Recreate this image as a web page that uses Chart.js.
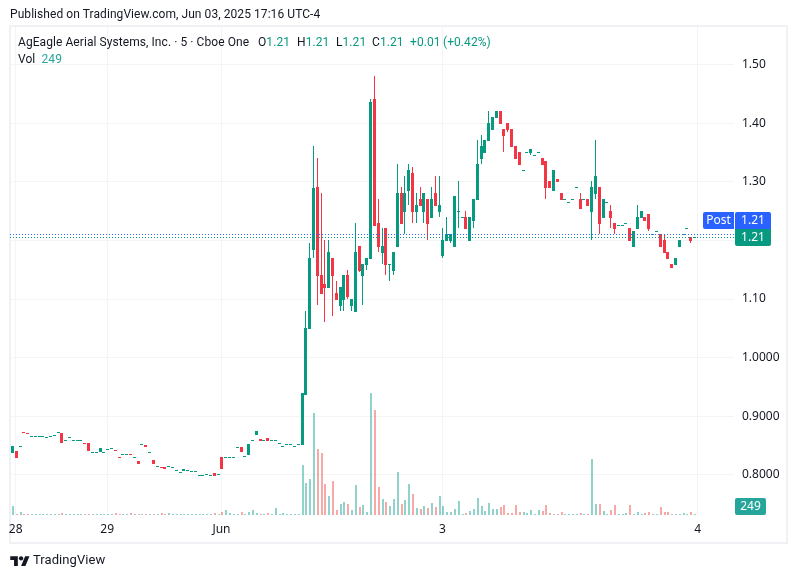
<!DOCTYPE html>
<html><head><meta charset="utf-8">
<script src="https://cdn.jsdelivr.net/npm/chart.js@4"></script>
<style>
html,body{margin:0;padding:0;background:#fff;width:798px;height:578px;overflow:hidden}
body{font-family:Roboto,sans-serif;color:#131722;position:relative}
canvas{position:absolute;left:0;top:0}
.t{position:absolute;white-space:pre;font-size:12px;line-height:16px;letter-spacing:.07px}
.v{color:#089981}
</style></head><body>
<canvas id="c" width="798" height="578"></canvas>
<div class="t" style="left:10px;top:6px">Published on TradingView.com, Jun 03, 2025 17:16 UTC-4</div>
<div class="t" style="left:18px;top:34px">AgEagle Aerial Systems, Inc. · 5 · Cboe One</div>
<div class="t" style="left:258px;top:34px">O<span class="v">1.21</span></div>
<div class="t" style="left:297px;top:34px">H<span class="v">1.21</span></div>
<div class="t" style="left:336px;top:34px">L<span class="v">1.21</span></div>
<div class="t" style="left:372px;top:34px">C<span class="v">1.21</span></div>
<div class="t v" style="left:410px;top:34px">+0.01</div>
<div class="t v" style="left:443px;top:34px">(+0.42%)</div>
<div class="t" style="left:18px;top:51px">Vol</div>
<div class="t" style="left:41.5px;top:51px;color:#26a69a">249</div>
<svg style="position:absolute;left:10px;top:554px" width="20" height="13" viewBox="0 0 36 24"><path fill="#131722" d="M14 22H7V11H0V4h14v18zM28 22h-8l7.5-18h8L28 22z"/><circle fill="#131722" cx="20" cy="8" r="4"/></svg>
<div class="t" style="left:33px;top:552px;font-size:13px">TradingView</div>
<script>
const opens=[.838,.841,.849,.873,.871,.866,.866,.866,.866,.864,
.866,.869,.873,.8717,.859,.864,.859,.859,.859,.854,
.8546,.840,.840,.8392,.840,.844,.8455,.842,.830,.835,
.835,.835,.830,.824,.852,.851,.840,.8256,.815,.813,
.813,.815,.813,.808,.8046,.8068,.8085,.806,.806,.7995,
.7995,.801,.7995,.8034,.801,.8307,.830,.830,.830,.847,
.8478,.832,.834,.859,.868,.861,.859,.863,.859,.859,
.854,.849,.852,.852,.849,.852,.851,.936,1.049,1.183,
1.291,1.141,1.125,1.119,1.170,1.110,1.088,1.098,1.141,1.088,
1.078,1.190,1.139,1.158,1.168,1.441,1.230,1.178,1.221,1.160,
1.148,1.189,1.281,1.248,1.284,1.315,1.248,1.270,1.248,1.270,
1.238,1.281,1.248,1.173,1.199,1.199,1.189,1.250,1.240,1.240,
1.199,1.233,1.269,1.339,1.349,1.369,1.388,1.409,1.421,1.390,
1.400,1.390,1.361,1.351,1.320,1.351,1.349,1.346,1.351,1.340,
1.335,1.301,1.284,1.305,1.281,1.270,1.265,1.270,1.291,1.270,
1.270,1.270,1.248,1.279,1.291,1.238,1.265,1.250,1.230,1.226,
1.226,1.230,1.221,1.189,1.219,1.238,1.240,1.245,1.211,1.216,
1.211,1.200,1.180,1.160,1.158,1.189,1.211,1.221,1.206,1.206];
const closes=[.8495,.8295,.849,.872,.870,.866,.866,.866,.866,.864,
.866,.869,.873,.8546,.859,.864,.859,.859,.859,.853,
.841,.840,.840,.846,.840,.844,.8455,.841,.829,.835,
.835,.834,.830,.8188,.852,.848,.840,.8188,.815,.812,
.810,.815,.813,.808,.8046,.810,.8085,.806,.806,.7995,
.7995,.801,.7995,.798,.801,.810,.830,.830,.830,.847,
.839,.832,.853,.859,.875,.858,.859,.858,.859,.859,
.854,.849,.852,.852,.849,.852,.939,1.050,1.170,1.289,
1.140,1.109,1.119,1.180,1.140,1.098,1.120,1.141,1.103,1.100,
1.180,1.148,1.160,1.170,1.436,1.224,1.189,1.190,1.158,1.160,
1.180,1.281,1.228,1.281,1.320,1.248,1.260,1.259,1.281,1.228,
1.270,1.259,1.260,1.200,1.211,1.211,1.276,1.250,1.240,1.219,
1.240,1.270,1.330,1.361,1.371,1.400,1.410,1.421,1.398,1.378,
1.388,1.359,1.339,1.328,1.320,1.351,1.356,1.346,1.351,1.328,
1.289,1.289,1.320,1.299,1.269,1.270,1.265,1.270,1.291,1.253,
1.270,1.259,1.291,1.310,1.228,1.270,1.265,1.238,1.219,1.226,
1.226,1.230,1.199,1.216,1.240,1.250,1.233,1.219,1.211,1.216,
1.189,1.178,1.168,1.153,1.170,1.200,1.211,1.221,1.199,1.206];
const highs=[.8495,.841,.849,.873,.871,.866,.866,.866,.866,.864,
.866,.869,.873,.8717,.859,.864,.859,.859,.859,.854,
.8546,.840,.840,.846,.840,.844,.8455,.842,.830,.835,
.835,.835,.830,.824,.852,.851,.840,.8256,.815,.813,
.813,.815,.813,.808,.8046,.810,.8085,.806,.806,.7995,
.7995,.801,.7995,.8034,.801,.8307,.830,.830,.830,.847,
.8478,.832,.853,.859,.875,.861,.859,.863,.859,.859,
.854,.849,.852,.852,.849,.852,.939,1.079,1.195,1.361,
1.340,1.281,1.200,1.200,1.170,1.131,1.120,1.141,1.149,1.100,
1.230,1.190,1.160,1.170,1.441,1.480,1.270,1.221,1.221,1.160,
1.180,1.330,1.291,1.310,1.330,1.325,1.281,1.291,1.281,1.270,
1.291,1.310,1.310,1.221,1.240,1.211,1.276,1.301,1.240,1.250,
1.240,1.270,1.371,1.380,1.371,1.421,1.410,1.421,1.421,1.390,
1.400,1.390,1.361,1.351,1.320,1.351,1.356,1.346,1.351,1.340,
1.335,1.301,1.320,1.305,1.281,1.270,1.265,1.270,1.291,1.281,
1.270,1.270,1.301,1.371,1.291,1.270,1.265,1.260,1.230,1.226,
1.226,1.230,1.221,1.216,1.260,1.250,1.240,1.245,1.211,1.216,
1.211,1.211,1.180,1.160,1.170,1.200,1.211,1.221,1.206,1.206];
const lows=[.838,.8295,.849,.872,.870,.866,.866,.866,.866,.864,
.866,.869,.873,.8546,.859,.864,.859,.859,.859,.853,
.841,.840,.840,.8392,.840,.844,.8455,.841,.829,.835,
.835,.834,.830,.8188,.852,.848,.840,.8188,.815,.812,
.810,.815,.813,.808,.8046,.8068,.8085,.806,.806,.7995,
.7995,.801,.7995,.798,.801,.810,.830,.830,.830,.847,
.839,.832,.834,.859,.868,.858,.859,.858,.859,.859,
.854,.849,.852,.852,.849,.852,.851,.936,1.049,1.170,
1.090,1.109,1.061,1.119,1.071,1.098,1.079,1.079,1.100,1.079,
1.078,1.146,1.090,1.149,1.168,1.224,1.180,1.160,1.141,1.131,
1.141,1.189,1.228,1.211,1.260,1.230,1.230,1.259,1.230,1.200,
1.238,1.259,1.240,1.170,1.199,1.195,1.189,1.221,1.240,1.219,
1.199,1.221,1.269,1.330,1.349,1.369,1.388,1.409,1.398,1.351,
1.385,1.359,1.339,1.328,1.320,1.351,1.346,1.346,1.351,1.328,
1.270,1.289,1.284,1.299,1.269,1.270,1.265,1.270,1.291,1.253,
1.270,1.259,1.200,1.270,1.211,1.238,1.265,1.221,1.211,1.226,
1.226,1.230,1.199,1.189,1.219,1.238,1.233,1.216,1.211,1.216,
1.189,1.178,1.168,1.153,1.158,1.189,1.211,1.221,1.195,1.206];
const volumes=[2250,250,750,250,250,250,250,250,250,250,
250,250,250,500,250,250,250,250,250,250,
250,250,250,250,250,250,250,500,250,250,
250,500,250,250,250,250,250,250,250,500,
250,500,250,250,250,250,250,250,250,250,
250,250,250,500,250,750,1250,500,250,250,
750,250,750,1250,500,250,250,500,250,1750,
250,500,250,250,250,250,12500,8000,9000,25500,
16500,15500,7750,4750,8500,1250,2750,3250,2750,1250,
7500,2000,2500,750,30500,26250,7000,4000,3250,2250,
4000,10750,2750,3750,7750,5250,1750,1500,2250,1750,
3000,2000,4750,2250,750,750,1500,3500,250,500,
1000,1500,4250,2250,1000,3000,1500,1500,2000,2500,
500,500,2500,750,750,500,1250,250,1250,1000,
2500,500,250,250,750,250,250,250,250,500,
250,250,14000,2750,2750,1000,250,1250,2500,250,
250,500,2500,250,750,250,500,750,250,250,
2000,750,750,250,250,250,500,250,750,249];
const slotCount=190;
const dayTickIndex=[1,25,55,113,180];
const dayTickLabels=['28','29','Jun','3','4'];
const priceTicks=[0.8,0.9,1.0,1.1,1.2,1.3,1.4,1.5];
const priceTickLabels=['0.8000','0.9000','1.0000','1.10','1.20','1.30','1.40','1.50'];
const postPrice=1.211, lastClose=1.206, lastVolume=249;

const UP='#089981',DOWN='#f23645',VUP='rgba(38,166,154,.5)',VDOWN='rgba(239,83,80,.5)';
const GRID='#f3f4f6', FONT='"Noto Sans",sans-serif';
const labels=Array.from({length:slotCount},(_,i)=>{const k=dayTickIndex.indexOf(i);return k<0?'':dayTickLabels[k];});
const up=closes.map((c,i)=>c>=opens[i]);

const snapPlugin={id:'snap',afterDatasetsUpdate(chart){
  chart.data.datasets.forEach((d,di)=>{
    chart.getDatasetMeta(di).data.forEach(el=>{
      el.x=Math.round(el.x)+(d.label==='Volume'?1:.5);
      const top=Math.round(el.y), base=Math.round(el.base);
      el.y=top; el.base=base===top?top+1:base;
    });
  });
}};
const decor={id:'decor',
 beforeDraw(chart){
  const c=chart.ctx;c.save();c.strokeStyle='#f0f1f4';c.lineWidth=2;
  c.strokeRect(10,26,777,517);c.restore();
 },
 afterDatasetsDraw(chart){
  const c=chart.ctx,a=chart.chartArea,ys=chart.scales.y;
  const rows=[[postPrice,'#2962ff'],[lastClose,UP]];
  c.save();c.lineWidth=1;c.setLineDash([1,2]);
  rows.forEach(([p,col])=>{const y=Math.round(ys.getPixelForValue(p))+.5;
    c.strokeStyle=col;c.beginPath();c.moveTo(a.left,y);c.lineTo(a.right,y);c.stroke();});
  c.restore();
 },
 afterDraw(chart){
  const c=chart.ctx,ys=chart.scales.y,yv=chart.scales.yv;
  const mid=Math.round(ys.getPixelForValue(lastClose))-8;
  const box=(x,y,w,h,col,rad)=>{c.fillStyle=col;c.beginPath();c.roundRect(x,y,w,h,rad);c.fill();};
  const txt=(s,x,y)=>{c.fillStyle='#fff';c.font='12px '+FONT;c.textAlign='center';c.textBaseline='middle';c.fillText(s,x,y);};
  c.save();
  box(703,mid-17,31,17,'#2962ff',[2,0,0,2]);
  box(735,mid-17,36,17,'#2962ff',[2,2,0,0]);
  box(735,mid,36,17,UP,[0,0,2,2]);
  txt('Post',718.5,mid-8);
  txt(postPrice.toFixed(2),753,mid-8);
  txt(lastClose.toFixed(2),753,mid+9);
  const vy=Math.round(yv.getPixelForValue(lastVolume));
  box(735,vy-16,31,17,'#26a69a',2);
  txt(String(lastVolume),750.5,vy-7);
  c.restore();
 }};
new Chart(document.getElementById('c'),{
 type:'bar',
 data:{labels,datasets:[
  {label:'Volume',yAxisID:'yv',data:volumes,backgroundColor:up.map(u=>u?VUP:VDOWN),barThickness:2,grouped:false,inflateAmount:0,order:3},
  {label:'Wick',yAxisID:'y',data:highs.map((h,i)=>[lows[i],h]),backgroundColor:up.map(u=>u?UP:DOWN),barThickness:1,grouped:false,inflateAmount:0,order:2},
  {label:'Body',yAxisID:'y',data:opens.map((o,i)=>[o,closes[i]]),backgroundColor:up.map(u=>u?UP:DOWN),barThickness:3,grouped:false,inflateAmount:0,order:1}
 ]},
 plugins:[snapPlugin,decor],
 options:{responsive:false,animation:false,devicePixelRatio:1,
  layout:{padding:{left:10,top:27,right:11,bottom:35}},
  plugins:{legend:{display:false},tooltip:{enabled:false}},
  scales:{
   x:{offset:true,border:{display:false},
      grid:{offset:false,color:GRID,drawTicks:false},
      afterBuildTicks:ax=>{ax.ticks=dayTickIndex.map(value=>({value}));},
      afterFit:ax=>{ax.height=27;},
      ticks:{autoSkip:false,maxRotation:0,padding:6,color:'#131722',font:{family:FONT,size:12},
        callback:function(v){return labels[v];}}},
   y:{position:'right',min:0.7300,max:1.5640,border:{display:false},
      grid:{color:GRID,drawTicks:false},
      afterBuildTicks:ax=>{ax.ticks=priceTicks.map(value=>({value}));},
      afterFit:ax=>{ax.width=53;},
      ticks:{padding:8,color:'#131722',font:{family:FONT,size:12},
        callback:function(v){return priceTickLabels[priceTicks.indexOf(v)];}}},
   yv:{display:false,min:-250,max:122000}
  }}
});
</script>
</body></html>
